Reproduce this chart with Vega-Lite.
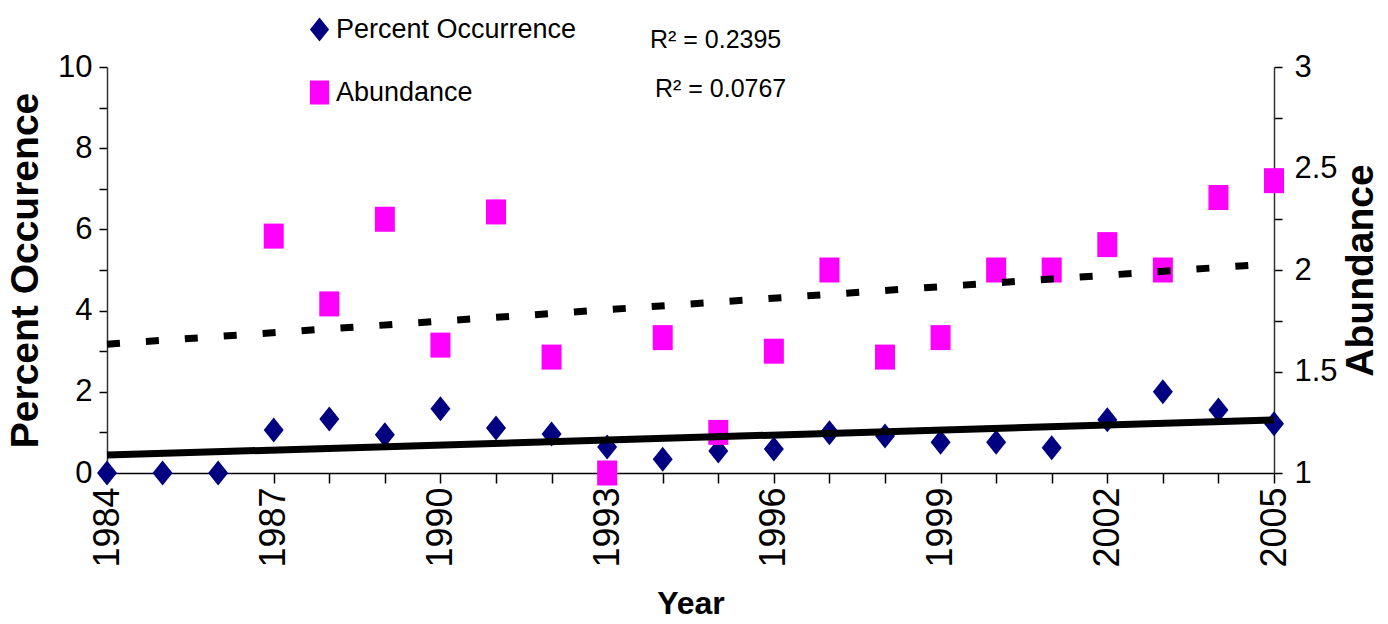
{
  "$schema": "https://vega.github.io/schema/vega-lite/v6.json",
  "width": 1167,
  "height": 406,
  "autosize": "none",
  "padding": {"left": 107, "top": 67, "right": 114, "bottom": 151},
  "background": "white",
  "config": {
    "view": {"stroke": null},
    "font": "Liberation Sans",
    "axis": {"grid": false, "labelColor": "black", "titleColor": "black", "tickColor": "black", "domainColor": "#333333", "domainWidth": 1.5, "tickWidth": 1.5, "labelFont": "Liberation Sans", "titleFont": "Liberation Sans"},
    "legend": {"labelFont": "Liberation Sans"}
  },
  "data": {
    "values": [
      {"year": 1984, "pct": 0},
      {"year": 1985, "pct": 0},
      {"year": 1986, "pct": 0},
      {"year": 1987, "pct": 1.06, "abund": 2.167},
      {"year": 1988, "pct": 1.33, "abund": 1.833},
      {"year": 1989, "pct": 0.94, "abund": 2.25},
      {"year": 1990, "pct": 1.58, "abund": 1.63},
      {"year": 1991, "pct": 1.11, "abund": 2.286},
      {"year": 1992, "pct": 0.96, "abund": 1.571},
      {"year": 1993, "pct": 0.64, "abund": 1.0},
      {"year": 1994, "pct": 0.34, "abund": 1.667},
      {"year": 1995, "pct": 0.54, "abund": 1.2},
      {"year": 1996, "pct": 0.59, "abund": 1.6},
      {"year": 1997, "pct": 0.99, "abund": 2.0},
      {"year": 1998, "pct": 0.91, "abund": 1.571},
      {"year": 1999, "pct": 0.76, "abund": 1.667},
      {"year": 2000, "pct": 0.76, "abund": 2.0},
      {"year": 2001, "pct": 0.62, "abund": 2.0},
      {"year": 2002, "pct": 1.31, "abund": 2.125},
      {"year": 2003, "pct": 2.0, "abund": 2.0},
      {"year": 2004, "pct": 1.55, "abund": 2.357},
      {"year": 2005, "pct": 1.21, "abund": 2.44}
    ]
  },
  "layer": [
    {
      "mark": {"type": "point", "filled": true, "opacity": 1, "size": 625},
      "encoding": {
        "x": {
          "field": "year", "type": "quantitative",
          "scale": {"domain": [1984, 2005], "nice": false, "zero": false},
          "axis": {
            "values": [1984,1985,1986,1987,1988,1989,1990,1991,1992,1993,1994,1995,1996,1997,1998,1999,2000,2001,2002,2003,2004,2005],
            "format": "d",
            "labelExpr": "(datum.value - 1984) % 3 == 0 ? datum.label : ''",
            "labelAngle": -90, "labelFontSize": 36, "labelPadding": 4, "labelFlush": false, "labelOverlap": false,
            "tickSize": 10, "domainColor": "black",
            "title": "Year", "titleFontSize": 32, "titleFontWeight": "bold", "titlePadding": 21
          }
        },
        "y": {
          "field": "pct", "type": "quantitative",
          "scale": {"domain": [0, 10], "nice": false, "zero": false},
          "axis": {
            "orient": "left",
            "values": [0,1,2,3,4,5,6,7,8,9,10],
            "labelExpr": "datum.value % 2 == 0 ? datum.label : ''",
            "labelFontSize": 31, "labelPadding": 7, "tickSize": 8, "labelFlush": false, "labelOverlap": false,
            "title": "Percent Occurence", "titleFontSize": 39, "titleFontWeight": "bold", "titlePadding": 12
          }
        },
        "color": {
          "datum": "Percent Occurrence",
          "scale": {"domain": ["Percent Occurrence", "Abundance"], "range": ["#000080", "#FF00FF"]},
          "legend": {
            "orient": "none", "legendX": 199, "legendY": -51, "title": null,
            "labelFontSize": 27, "labelLimit": 500, "symbolSize": 576, "rowPadding": 35, "padding": 0, "labelOffset": 3, "labelColor": "black"
          }
        },
        "shape": {
          "datum": "Percent Occurrence",
          "scale": {"domain": ["Percent Occurrence", "Abundance"], "range": ["M0,-1L0.8,0L0,1L-0.8,0Z", "M-0.8,-1L0.8,-1L0.8,1L-0.8,1Z"]}
        }
      }
    },
    {
      "mark": {"type": "point", "filled": true, "opacity": 1, "size": 625},
      "encoding": {
        "x": {"field": "year", "type": "quantitative"},
        "y": {
          "field": "abund", "type": "quantitative",
          "scale": {"domain": [1, 3], "nice": false, "zero": false},
          "axis": {
            "orient": "right",
            "values": [1,1.25,1.5,1.75,2,2.25,2.5,2.75,3],
            "format": "~g",
            "labelExpr": "(datum.value * 2) % 1 == 0 ? datum.label : ''",
            "labelFontSize": 31, "labelPadding": 12, "tickSize": 8, "labelFlush": false, "labelOverlap": false,
            "title": "Abundance", "titleFontSize": 39, "titleFontWeight": "bold", "titleAngle": 270, "titleBaseline": "top", "titlePadding": 4
          }
        },
        "color": {"datum": "Abundance"},
        "shape": {"datum": "Abundance"}
      }
    },
    {
      "transform": [{"regression": "pct", "on": "year", "extent": [1984, 2005]}],
      "mark": {"type": "line", "color": "black", "strokeWidth": 7},
      "encoding": {
        "x": {"field": "year", "type": "quantitative"},
        "y": {"field": "pct", "type": "quantitative", "scale": {"domain": [0, 10], "nice": false, "zero": false}, "axis": null}
      }
    },
    {
      "transform": [{"filter": "isValid(datum.abund)"}, {"regression": "abund", "on": "year", "extent": [1984, 2005]}],
      "mark": {"type": "line", "color": "black", "strokeWidth": 7, "strokeDash": [13, 26], "strokeCap": "butt"},
      "encoding": {
        "x": {"field": "year", "type": "quantitative"},
        "y": {"field": "abund", "type": "quantitative", "scale": {"domain": [1, 3], "nice": false, "zero": false}, "axis": null}
      }
    },
    {
      "data": {"values": [{"label": "R² = 0.2395"}]},
      "mark": {"type": "text", "align": "left", "baseline": "alphabetic", "fontSize": 25, "font": "Liberation Sans", "color": "black"},
      "encoding": {
        "text": {"field": "label"},
        "x": {"datum": 1993.77, "type": "quantitative"},
        "y": {"datum": 10.47, "type": "quantitative", "scale": {"domain": [0, 10], "nice": false, "zero": false}, "axis": null}
      }
    },
    {
      "data": {"values": [{"label": "R² = 0.0767"}]},
      "mark": {"type": "text", "align": "left", "baseline": "alphabetic", "fontSize": 25, "font": "Liberation Sans", "color": "black"},
      "encoding": {
        "text": {"field": "label"},
        "x": {"datum": 1993.86, "type": "quantitative"},
        "y": {"datum": 9.26, "type": "quantitative", "scale": {"domain": [0, 10], "nice": false, "zero": false}, "axis": null}
      }
    }
  ],
  "resolve": {"scale": {"y": "independent"}}
}
